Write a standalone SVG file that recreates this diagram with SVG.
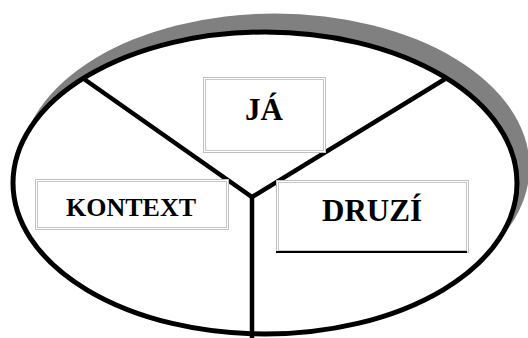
<svg xmlns="http://www.w3.org/2000/svg" width="528" height="338" viewBox="0 0 528 338">
  <style>
    .lbl { font-family: "Liberation Serif", "Times New Roman", serif; font-weight: bold; fill: #000; text-anchor: middle; }
    .box-o { fill: #fff; stroke: #c0c0c0; stroke-width: 1; }
    .box-i { fill: none; stroke: #c8c8c8; stroke-width: 1; }
    .conn { stroke: #000; stroke-width: 4.5; fill: none; stroke-linejoin: miter; }
  </style>
  <rect width="528" height="338" fill="#fff"/>
  <g id="shape">
    <ellipse cx="275" cy="167" rx="254.5" ry="153.5" fill="#808080"/>
    <ellipse cx="265" cy="183" rx="252" ry="151" fill="#fff" stroke="#000" stroke-width="5"/>
  </g>
  <g id="connectors">
    <polyline class="conn" points="84,79 252,197 445,79"/>
    <line class="conn" x1="252" y1="196" x2="252" y2="340" stroke-width="5.5"/>
  </g>
  <g id="node-ja">
    <rect class="box-o" x="203.5" y="77.5" width="122" height="75"/>
    <rect class="box-i" x="205.5" y="79.5" width="118" height="71"/>
    <text class="lbl" x="264" y="120" font-size="31">JÁ</text>
  </g>
  <g id="node-kontext">
    <rect class="box-o" x="35.5" y="179.5" width="193" height="50"/>
    <rect class="box-i" x="37.5" y="181.5" width="189" height="46"/>
    <text class="lbl" x="131" y="216" font-size="26">KONTEXT</text>
  </g>
  <g id="node-druzi">
    <rect class="box-o" x="276.5" y="180.5" width="192" height="72"/>
    <rect class="box-i" x="278.5" y="182.5" width="188" height="68"/>
    <line x1="276" y1="252" x2="467" y2="252" stroke="#000" stroke-width="2"/>
    <text class="lbl" x="372" y="221" font-size="31">DRUZÍ</text>
  </g>
</svg>
